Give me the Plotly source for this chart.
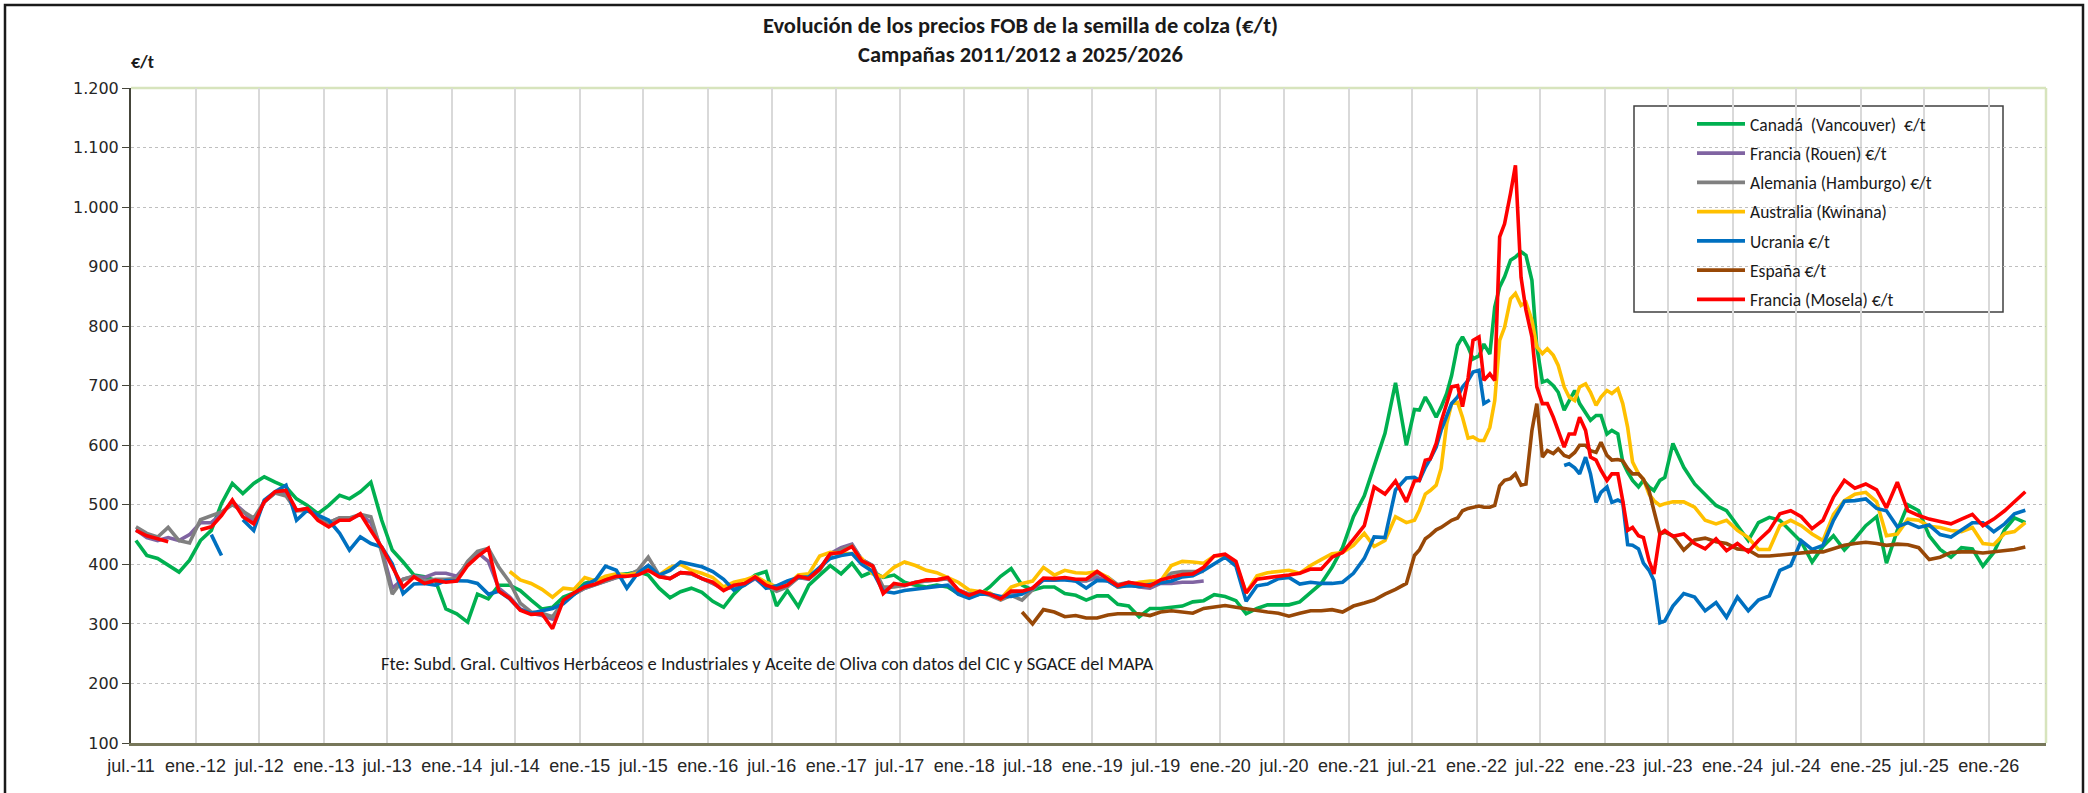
import pandas as pd
import plotly.graph_objects as go

# ---------------- DATA (€/t) ----------------
# Segment A: monthly values (mid-month), Segment B: twice a month (Jul-2021..Jun-2023),
# Segment C: monthly values (Jul-2023..Apr-2026)

canada_a = [440, 415, 410, 398, 387, 407, 440, 457, 502, 536, 519, 536, 547, 538, 530, 510, 499, 485, 499, 516,
            510, 522, 538, 474, 424, 404, 382, 379, 373, 325,
            317, 303, 350, 342, 365, 365, 356, 340, 325, 328, 345, 352, 368, 374, 378, 382, 384, 388, 382, 360,
            344, 354, 360, 353, 338, 328, 350, 368, 382, 388,
            330, 356, 329, 365, 382, 398, 384, 402, 380, 388, 378, 382, 370, 365, 362, 365, 362, 351, 346, 350,
            362, 380, 393, 365, 357, 362, 362, 351, 348, 340,
            347, 347, 333, 330, 312, 326, 326, 328, 330, 337, 339, 349, 346, 339, 317, 326, 332, 332, 332, 337,
            352, 368, 395, 428, 480, 515, 565, 620, 705, 600]
canada_b = [660, 659, 681, 667, 647, 664, 687, 717, 768, 782, 765, 745, 750, 770, 753, 832, 866, 883, 911, 916,
            925, 919, 877, 765, 706, 709, 700, 689, 659, 675, 692, 670, 656, 642, 650, 650, 619, 625, 619, 572,
            555, 541, 530, 541, 530, 524, 541, 546]
canada_c = [603, 563, 535, 518, 499, 490,
            466, 440, 470, 479, 474, 455, 438, 404, 430, 448, 424, 443, 465, 480, 402, 457, 500, 490, 448, 425,
            412, 428, 426, 397, 420, 458, 478, 470]

rouen_a = [458, 445, 440, 445, 440, 450, 470, 470, 485, 505, 490, 470, 505, 520, 520, 490, 494, 480, 470, 478,
           475, 484, 470, 425, 360, 375, 380, 378, 385, 385,
           380, 400, 420, 405, 360, 345, 325, 318, 314, 308, 338, 350, 360, 366, 372, 378, 380, 385, 398, 380,
           376, 386, 384, 376, 368, 360, 362, 366, 376, 362,
           358, 364, 378, 375, 392, 418, 428, 434, 408, 398, 356, 364, 364, 370, 372, 374, 376, 356, 350, 353,
           350, 342, 352, 352, 358, 374, 374, 376, 372, 372,
           378, 372, 362, 366, 362, 360, 368, 368, 370, 370, 372]

hamburgo_a = [463, 452, 446, 462, 440, 436, 475, 482, 488, 500, 490, 478, 505, 520, 515, 490, 490, 480, 470, 478,
              478, 484, 480, 420, 350, 375, 380, 372, 375, 375,
              376, 405, 422, 427, 395, 370, 335, 320, 318, 312, 338, 350, 360, 366, 372, 378, 380, 390, 412, 382,
              376, 386, 384, 376, 368, 358, 362, 368, 378, 365,
              355, 362, 378, 376, 390, 416, 425, 432, 408, 398, 362, 362, 365, 370, 372, 374, 376, 357, 350, 352,
              348, 340, 348, 340, 358, 375, 374, 376, 374, 373,
              385, 378, 366, 370, 366, 364, 372, 385, 388, 388, 388]

australia_a = [388, 374, 368, 358, 345, 360, 358, 378, 372, 380, 384, 382, 385, 392, 382, 395, 400, 390, 385, 378,
               362, 370, 374, 380, 370,
               362, 366, 382, 384, 414, 420, 418, 418, 410, 384, 379, 395, 404, 398, 390, 386, 378, 370, 357, 355,
               352, 342, 362, 368, 372, 395, 382, 390, 386, 385,
               388, 378, 362, 365, 370, 372, 372, 398, 405, 404, 402, 414, 415, 400, 352, 381, 386, 388, 390, 385,
               398, 408, 418, 420, 432, 452, 430, 440, 480, 470]
australia_b = [474, 491, 518, 524, 533, 561, 636, 670, 672, 647, 612, 614, 608, 608, 630, 675, 776, 798, 846, 855,
               835, 840, 810, 765, 754, 762, 751, 734, 698, 681, 675, 698, 703, 689, 667, 681, 692, 687, 695, 670,
               630, 572, 552, 543, 518, 507, 499, 502]
australia_c = [505, 505, 496, 474, 468, 474,
               457, 445, 425, 425, 465, 474, 465, 451, 440, 484, 507, 518, 521, 505, 448, 451, 476, 474, 464, 462,
               457, 455, 462, 435, 433, 452, 455, 470]

ucrania_a = [450, 415, None, 475, 457, 508, 522, 533, 474, 491, 482, 474, 452, 424, 446, 435, 429, 401, 351, 367,
             368, 365, 373,
             373, 372, 368, 350, 355, 342, 324, 318, 322, 326, 334, 350, 365, 374, 397, 390, 360, 385, 398, 382,
             390, 404, 400, 396, 388, 375, 357, 365, 378, 360,
             364, 372, 378, 379, 395, 410, 415, 418, 400, 388, 355, 352, 356, 358, 360, 363, 365, 350, 343, 350,
             350, 346, 346, 350, 360, 374, 374, 374, 372, 360,
             373, 372, 362, 364, 363, 366, 368, 372, 379, 381, 390, 400, 412, 397, 338, 364, 367, 376, 378, 367,
             370, 368, 368, 370, 385, 410, 446, 445, 525, 545]
ucrania_b = [546, 541, 563, 577, 597, 625, 650, 670, 681, 698, 709, 723, 726, 670, 676,
             None, None, None, None, None, None, None, None, None, None, None, None, None,
             566, 569, 562, 552, 580, 552, 504, 521, 530, 504, 508, 504, 433, 432, 426, 402, 390, 373, 302, 305]
ucrania_c = [330, 351, 345, 322, 336, 311,
             345, 322, 340, 347, 390, 398, 440, 425, 432, 474, 506, 507, 510, 494, 490, 463, 470, 462, 466, 450,
             446, 457, 470, 470, 455, 468, 485, 491]

espana_a = [320, 300, 324, 320, 312, 314, 310,
            310, 315, 317, 317, 317, 314, 320, 322, 320, 318, 326, 328, 331, 328, 325, 322, 320, 318, 313, 318,
            322, 322, 324, 320, 330, 335, 340, 350, 358, 368]
espana_b = [415, 424, 443, 449, 458, 462, 469, 474, 478, 490, 494, 496, 498, 496, 496, 499, 532, 541, 544, 552,
            533, 535, 625, 670, 580, 591, 586, 594, 583, 580, 588, 600, 600, 591, 588, 605, 583, 575, 576, 574,
            561, 552, 552, 543, 524, 490, 451, 454]
espana_c = [448, 424, 441, 444, 438, 435,
            426, 424, 414, 414, 416, 418, 420, 421, 421, 427, 432, 435, 437, 435, 432, 434, 433, 428, 408, 412,
            420, 421, 421, 419, 421, 423, 425, 429]

mosela_a = [457, 448, 443, 438, None, None, 458, 463, 482, 508, 480, 468, 505, 522, 524, 491, 494, 474, 463, 474,
            474, 485, 457, 429, 396, 362, 379, 368, 373, 370,
            372, 398, 413, 427, 355, 343, 323, 316, 317, 292, 340, 352, 362, 367, 374, 380, 380, 382, 390, 379,
            376, 386, 385, 376, 370, 356, 365, 368, 379, 365,
            359, 365, 380, 376, 392, 418, 420, 430, 406, 397, 351, 368, 365, 370, 374, 374, 378, 357, 348, 355,
            350, 342, 355, 355, 360, 377, 376, 378, 375, 375,
            388, 375, 364, 370, 367, 364, 374, 378, 383, 384, 395, 414, 417, 405, 352, 375, 378, 380, 382, 385,
            392, 392, 412, 420, 442, 465, 530, 518, 540, 505]
mosela_b = [540, 541, 575, 577, 603, 639, 670, 698, 700, 665, 713, 776, 782, 709, 720, 709, 950, 972, 1023, 1070,
            882, 827, 782, 698, 670, 670, 647, 625, 597, 619, 619, 647, 625, 580, 575, 558, 541, 552, 552, 507,
            457, 462, 448, 445, 406, 384, 451, 457]
mosela_c = [447, 451, 435, 426, 443, 423,
            435, 421, 440, 457, 485, 490, 480, 460, 474, 513, 541, 528, 535, 525, 495, 538, 490, 482, 476, 472,
            468, 476, 484, 465, 476, 490, 505, 522]

# first month of each series' segment A
start_a = {"canada": "2011-07-01", "rouen": "2011-07-01", "hamburgo": "2011-07-01",
           "australia": "2014-06-01", "ucrania": "2012-02-01", "espana": "2018-06-01",
           "mosela": "2011-07-01"}
start_b = "2021-07-01"
start_c = "2023-07-01"

tick_labels = ["jul.-11", "ene.-12", "jul.-12", "ene.-13", "jul.-13", "ene.-14", "jul.-14", "ene.-15",
               "jul.-15", "ene.-16", "jul.-16", "ene.-17", "jul.-17", "ene.-18", "jul.-18", "ene.-19",
               "jul.-19", "ene.-20", "jul.-20", "ene.-21", "jul.-21", "ene.-22", "jul.-22", "ene.-23",
               "jul.-23", "ene.-24", "jul.-24", "ene.-25", "jul.-25", "ene.-26"]

names = {"canada": "Canadá  (Vancouver)  €/t", "rouen": "Francia (Rouen) €/t",
         "hamburgo": "Alemania (Hamburgo) €/t", "australia": "Australia (Kwinana)",
         "ucrania": "Ucrania €/t", "espana": "España €/t", "mosela": "Francia (Mosela) €/t"}
colors = {"canada": "#00B050", "rouen": "#8064A2", "hamburgo": "#808080", "australia": "#FFC000",
          "ucrania": "#0070C0", "espana": "#984807", "mosela": "#FF0000"}


# ---------------- helpers ----------------
def monthly(start, n):
    return list(pd.date_range(start, periods=n, freq="MS") + pd.Timedelta(days=14))


def semimonthly(start, n):
    return list(pd.date_range(start, periods=n, freq="SMS") + pd.Timedelta(days=7))


def build(key, a, b=None, c=None):
    x = monthly(start_a[key], len(a))
    y = list(a)
    if b is not None:
        x += semimonthly(start_b, len(b))
        y += list(b)
    if c is not None:
        x += monthly(start_c, len(c))
        y += list(c)
    return x, y


series = [
    ("canada", canada_a, canada_b, canada_c),
    ("rouen", rouen_a, None, None),
    ("hamburgo", hamburgo_a, None, None),
    ("australia", australia_a, australia_b, australia_c),
    ("ucrania", ucrania_a, ucrania_b, ucrania_c),
    ("espana", espana_a, espana_b, espana_c),
    ("mosela", mosela_a, mosela_b, mosela_c),
]

W, H = 2088, 793
ML, MR, MT, MB = 131, 42, 88, 50
PW, PH = W - ML - MR, H - MT - MB


def px(xp):
    return (xp - ML) / PW


def py(yp):
    return (H - MB - yp) / PH


CAL = "Calibri, Carlito, Lato, sans-serif"

fig = go.Figure()
for key, a, b, c in series:
    x, y = build(key, a, b, c)
    fig.add_trace(go.Scatter(x=x, y=y, mode="lines", name=names[key], legendgroup=key,
                             line=dict(color=colors[key], width=3.6), connectgaps=False))

tick_vals = list(pd.date_range("2011-07-01", periods=len(tick_labels), freq="6MS"))

fig.update_xaxes(type="date", range=["2011-07-01", "2026-06-13"], tickvals=tick_vals, ticktext=tick_labels,
                 showgrid=True, gridcolor="#D9D9D9", gridwidth=1.5, showline=True, linecolor="#77775A",
                 linewidth=3, ticks="", ticklabelstandoff=4,
                 tickfont=dict(family="Liberation Sans Narrow, Arial Narrow, sans-serif", size=18, color="#262626"),
                 zeroline=False)
fig.update_yaxes(range=[100, 1200], tick0=100, dtick=100, showgrid=True, gridcolor="#BFBFBF", griddash="dot",
                 gridwidth=1, showline=True, linecolor="#45453A", linewidth=2, ticks="outside", ticklen=7,
                 tickcolor="#45453A", separatethousands=True, zeroline=False,
                 tickfont=dict(family="DejaVu Sans, Verdana, sans-serif", size=16, color="#262626"))

shapes = [
    # outer chart border
    dict(type="rect", xref="paper", yref="paper", x0=px(5), x1=px(2083), y0=py(798), y1=py(5),
         line=dict(color="#1A1A1A", width=2.5), fillcolor="rgba(0,0,0,0)", layer="above"),
    # plot area top/right border (pale green)
    dict(type="line", xref="paper", yref="paper", x0=0, x1=1, y0=1, y1=1,
         line=dict(color="#D7E4BD", width=2.5), layer="below"),
    dict(type="line", xref="paper", yref="paper", x0=1, x1=1, y0=0, y1=1,
         line=dict(color="#D7E4BD", width=2.5), layer="below"),
    # legend box
    dict(type="rect", xref="paper", yref="paper", x0=px(1634), x1=px(2003), y0=py(312), y1=py(106),
         line=dict(color="#404040", width=1.5), fillcolor="white", layer="between"),
]

annotations = [
    dict(text="<b>Evolución de los precios FOB de la semilla de colza (€/t)</b>", xref="paper", yref="paper",
         x=px(1020), y=py(25), xanchor="center", yanchor="middle", showarrow=False,
         font=dict(family=CAL, size=22.5, color="#1A1A1A")),
    dict(text="<b>Campañas 2011/2012 a 2025/2026</b>", xref="paper", yref="paper",
         x=px(1020), y=py(55), xanchor="center", yanchor="middle", showarrow=False,
         font=dict(family=CAL, size=22.5, color="#1A1A1A")),
    dict(text="<b>€/t</b>", xref="paper", yref="paper", x=px(142), y=py(62), xanchor="center",
         yanchor="middle", showarrow=False, font=dict(family=CAL, size=18, color="#1A1A1A")),
    dict(text="Fte: Subd. Gral. Cultivos Herbáceos e Industriales y Aceite de Oliva con datos del CIC y SGACE del MAPA",
         xref="paper", yref="paper", x=px(379), y=py(663), xanchor="left", yanchor="middle", showarrow=False,
         font=dict(family=CAL, size=18.5, color="#1A1A1A")),
]

fig.update_layout(
    width=W, height=H, margin=dict(l=ML, r=MR, t=MT, b=MB, autoexpand=False),
    paper_bgcolor="white", plot_bgcolor="white", separators=",.",
    shapes=shapes, annotations=annotations, hovermode=False,
    legend=dict(x=px(1692), y=py(106), xanchor="left", yanchor="top", bgcolor="rgba(0,0,0,0)",
                borderwidth=0, itemwidth=48, tracegroupgap=3.5,
                font=dict(family=CAL, size=17.5, color="#1A1A1A")),
)

fig.write_html("out.html", config={"displayModeBar": False},
               post_script="document.body.style.margin='0px';document.body.style.overflow='hidden';")
